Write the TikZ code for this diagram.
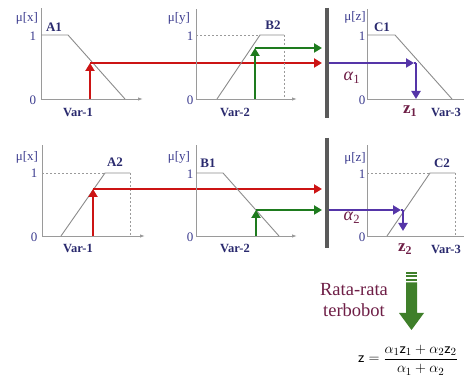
\documentclass[tikz,border=0pt]{standalone}
\usepackage{fontspec}
\setmainfont{Liberation Serif}
\usetikzlibrary{arrows.meta}
\definecolor{axisgray}{HTML}{9A9A9A}
\definecolor{lblue}{HTML}{3B3B8E}
\definecolor{lnavy}{HTML}{2A2A6E}
\definecolor{redar}{HTML}{CC1414}
\definecolor{greenar}{HTML}{1E7B1E}
\definecolor{purar}{HTML}{5535A8}
\definecolor{maroonc}{HTML}{6E1E46}
\definecolor{bargray}{HTML}{5A5A5A}
\definecolor{biggreen}{HTML}{3F7F2A}
\tikzset{
  axisx/.style={draw=axisgray, line width=0.9pt, -{Latex[length=5pt,width=3.5pt]}},
  axisy/.style={draw=axisgray, line width=0.9pt},
  mfline/.style={draw=axisgray!90!black, line width=0.9pt},
  dashln/.style={draw=axisgray, line width=0.7pt, dash pattern=on 2pt off 2pt},
  arrline/.style={line width=2.6pt, -{Triangle[length=8pt,width=9pt]}},
  plainline/.style={line width=2.6pt},
  mulbl/.style={text=lblue, font=\fontsize{13}{13}\selectfont, inner sep=0pt},
  numlbl/.style={text=lblue, font=\fontsize{13}{13}\selectfont, inner sep=0pt},
  setlbl/.style={text=lnavy, font=\fontsize{13}{13}\selectfont\bfseries, inner sep=0pt},
  varlbl/.style={text=lnavy, font=\fontsize{12.5}{12.5}\selectfont\bfseries, inner sep=0pt},
  alphalbl/.style={text=maroonc, font=\fontsize{18}{18}\selectfont, inner sep=0pt},
  zlbl/.style={text=maroonc, font=\fontsize{17}{17}\selectfont\bfseries, inner sep=0pt},
  bar/.style={draw=bargray, line width=3.6pt},
}
\begin{document}
\begin{tikzpicture}[x=1pt,y=-1pt]
\useasboundingbox (0,0) rectangle (464,387);

% ===================== TOP ROW =====================
% Panel 1 (A1)
\coordinate (o1) at (41,99);
\coordinate (x1e) at (143,99);
\coordinate (y1t) at (41,8);
\draw[axisy] (o1) -- (y1t);
\draw[axisx] (o1) -- (x1e);
\coordinate (a1p) at (41,35); \coordinate (a1q) at (68,35); \coordinate (a1r) at (125,99);
\draw[mfline] (a1p) -- (a1q) -- (a1r);
\node[mulbl] (mu1) at (27,18) {μ[x]};
\node[setlbl] (lA1) at (54,27) {A1};
\node[numlbl] (one1) at (33,36) {1};
\node[numlbl] (zero1) at (33,100) {0};
\node[varlbl] (var1a) at (78,112) {Var-1};
\coordinate (r1b) at (90,99); \coordinate (r1t) at (90,63); \coordinate (r1e) at (322,63);
\draw[arrline, redar] (r1b) -- (r1t);
\draw[arrline, redar] (r1t) -- (r1e);

% Panel 2 (B2)
\coordinate (o2) at (196,99);
\coordinate (x2e) at (297,99);
\coordinate (y2t) at (196,9);
\draw[axisy] (o2) -- (y2t);
\draw[axisx] (o2) -- (x2e);
\coordinate (b2p) at (217,99); \coordinate (b2q) at (260,35); \coordinate (b2r) at (284,35); \coordinate (b2s) at (284,99);
\coordinate (b2l) at (196,35);
\draw[dashln] (b2l) -- (b2q);
\draw[dashln] (b2r) -- (b2s);
\draw[mfline] (b2p) -- (b2q) -- (b2r);
\node[mulbl] (mu2) at (179,18) {μ[y]};
\node[setlbl] (lB2) at (273,25) {B2};
\node[numlbl] (one2) at (190,36) {1};
\node[numlbl] (zero2) at (190,100) {0};
\node[varlbl] (var2a) at (235,112) {Var-2};
\coordinate (g1b) at (255,99); \coordinate (g1t) at (255,48); \coordinate (g1e) at (322,48);
\draw[arrline, greenar] (g1b) -- (g1t);
\draw[arrline, greenar] (g1t) -- (g1e);

% Bar 1
\coordinate (bar1t) at (327,8); \coordinate (bar1b) at (327,118);
\draw[bar] (bar1t) -- (bar1b);

% Panel 3 (C1)
\coordinate (o3) at (367,99);
\coordinate (x3e) at (464,99);
\coordinate (y3t) at (367,9);
\draw[axisy] (o3) -- (y3t);
\draw[axisy] (o3) -- (x3e);
\coordinate (c1p) at (367,35); \coordinate (c1q) at (395,35); \coordinate (c1r) at (452,99);
\draw[mfline] (c1p) -- (c1q) -- (c1r);
\node[mulbl] (mu3) at (355,17) {μ[z]};
\node[setlbl] (lC1) at (382,27) {C1};
\node[numlbl] (one3) at (362,36) {1};
\node[numlbl] (zero3) at (362,100) {0};
\node[varlbl] (var3a) at (446,112) {Var-3};
\coordinate (p1s) at (329,63); \coordinate (p1e) at (414,63);
\coordinate (p1v) at (416,63); \coordinate (p1d) at (416,99);
\draw[arrline, purar] (p1s) -- (p1e);
\draw[plainline, purar] (p1e) -- (p1v);
\draw[arrline, purar] (p1v) -- (p1d);
\node[alphalbl] (al1) at (352,78) {\textit{α}\textsubscript{1}};
\node[zlbl] (z1) at (410,111) {z\textsubscript{1}};

% ===================== BOTTOM ROW =====================
% Panel 4 (A2)
\coordinate (o4) at (42,236);
\coordinate (x4e) at (145,236);
\coordinate (y4t) at (42,145);
\draw[axisy] (o4) -- (y4t);
\draw[axisx] (o4) -- (x4e);
\coordinate (a2p) at (61,236); \coordinate (a2q) at (105,173); \coordinate (a2r) at (130,173); \coordinate (a2s) at (130,236);
\coordinate (a2l) at (42,173);
\draw[dashln] (a2l) -- (a2q);
\draw[dashln] (a2r) -- (a2s);
\draw[mfline] (a2p) -- (a2q) -- (a2r);
\node[mulbl] (mu4) at (27,157) {μ[x]};
\node[setlbl] (lA2) at (115,162) {A2};
\node[numlbl] (one4) at (34,173) {1};
\node[numlbl] (zero4) at (34,237) {0};
\node[varlbl] (var1b) at (78,248) {Var-1};
\coordinate (r2b) at (93,236); \coordinate (r2t) at (93,189); \coordinate (r2e) at (322,189);
\draw[arrline, redar] (r2b) -- (r2t);
\draw[arrline, redar] (r2t) -- (r2e);

% Panel 5 (B1)
\coordinate (o5) at (196,236);
\coordinate (x5e) at (297,236);
\coordinate (y5t) at (196,145);
\draw[axisy] (o5) -- (y5t);
\draw[axisx] (o5) -- (x5e);
\coordinate (b1p) at (196,173); \coordinate (b1q) at (223,173); \coordinate (b1r) at (279,236);
\draw[mfline] (b1p) -- (b1q) -- (b1r);
\node[mulbl] (mu5) at (179,157) {μ[y]};
\node[setlbl] (lB1) at (208,163) {B1};
\node[numlbl] (one5) at (190,174) {1};
\node[numlbl] (zero5) at (190,237) {0};
\node[varlbl] (var2b) at (235,248) {Var-2};
\coordinate (g2b) at (256,236); \coordinate (g2t) at (256,210); \coordinate (g2e) at (322,210);
\draw[arrline, greenar] (g2b) -- (g2t);
\draw[arrline, greenar] (g2t) -- (g2e);

% Bar 2
\coordinate (bar2t) at (327,138); \coordinate (bar2b) at (327,248);
\draw[bar] (bar2t) -- (bar2b);

% Panel 6 (C2)
\coordinate (o6) at (367,236);
\coordinate (x6e) at (464,236);
\coordinate (y6t) at (367,145);
\draw[axisy] (o6) -- (y6t);
\draw[axisy] (o6) -- (x6e);
\coordinate (c2p) at (387,236); \coordinate (c2q) at (430,173); \coordinate (c2r) at (455,173); \coordinate (c2s) at (455,236);
\coordinate (c2l) at (367,173);
\draw[dashln] (c2l) -- (c2q);
\draw[dashln] (c2r) -- (c2s);
\draw[mfline] (c2p) -- (c2q) -- (c2r);
\node[mulbl] (mu6) at (355,158) {μ[z]};
\node[setlbl] (lC2) at (442,163) {C2};
\node[numlbl] (one6) at (362,174) {1};
\node[numlbl] (zero6) at (362,237) {0};
\node[varlbl] (var3b) at (446,249) {Var-3};
\coordinate (p2s) at (329,210); \coordinate (p2e) at (401,210);
\coordinate (p2v) at (403,210); \coordinate (p2d) at (403,231);
\draw[arrline, purar] (p2s) -- (p2e);
\draw[plainline, purar] (p2e) -- (p2v);
\draw[arrline, purar] (p2v) -- (p2d);
\node[alphalbl] (al2) at (352,218) {\textit{α}\textsubscript{2}};
\node[zlbl] (z2) at (405,249) {z\textsubscript{2}};

% ===================== AVERAGE =====================
\node[text=maroonc, font=\fontsize{18.5}{21}\selectfont, align=center, inner sep=0pt] (avg) at (354,300) {Rata-rata\\terbobot};
% big green arrow
\fill[biggreen] (406,272) rectangle (417,274);
\fill[biggreen] (406,275.5) rectangle (417,277.5);
\fill[biggreen] (406,279) rectangle (417,281);
\fill[biggreen] (406,282.5) -- (417,282.5) -- (417,313) -- (424,313) -- (411.5,330) -- (399,313) -- (406,313) -- cycle;

\node[inner sep=0pt, font=\fontsize{15.5}{15.5}\selectfont] (formula) at (408,360)
  {$\mathsf{z} = {\displaystyle\frac{\alpha_1\mathsf{z}_1 + \alpha_2\mathsf{z}_2}{\alpha_1 + \alpha_2}}$};
\end{tikzpicture}
\end{document}
